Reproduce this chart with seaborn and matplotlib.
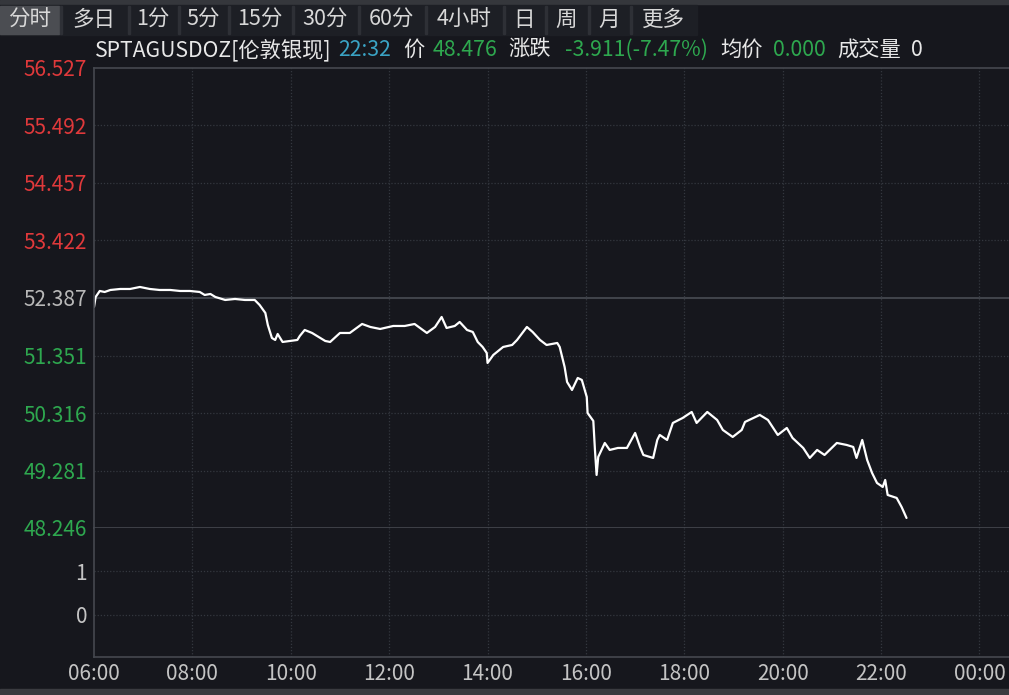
import matplotlib
matplotlib.use("Agg")
import matplotlib.pyplot as plt
import numpy as np
import pandas as pd
import seaborn as sns
from matplotlib.patches import Rectangle

# minutes after 06:00 and last price
minutes = [0, 2, 7, 13, 20, 32, 44, 56, 68, 80, 93, 105, 117, 129, 135, 142, 148,
           160, 172, 184, 196, 202, 209, 212, 217, 221, 224, 230, 239, 248, 251,
           257, 266, 276, 282, 288, 300, 312, 327, 337, 349, 365, 379, 391, 406,
           416, 424, 430, 440, 446, 455, 462, 468, 474, 479, 480, 487, 499, 510,
           516, 528, 535, 544, 552, 565, 568, 574, 577, 583, 590, 595, 601, 602,
           609, 611, 613, 615, 623, 629, 639, 650, 660, 666, 670, 682, 687, 690,
           699, 706, 718, 729, 735, 748, 760, 767, 779, 790, 794, 812, 822, 834,
           845, 852, 865, 873, 882, 891, 906, 918, 926, 930, 937, 943, 949, 955,
           962, 965, 968, 979, 985, 991]
prices = [52.225, 52.405, 52.513, 52.495, 52.531, 52.549, 52.549, 52.585, 52.549,
          52.531, 52.531, 52.513, 52.513, 52.495, 52.441, 52.459, 52.405, 52.351,
          52.369, 52.351, 52.351, 52.261, 52.117, 51.901, 51.667, 51.631, 51.739,
          51.595, 51.613, 51.631, 51.703, 51.811, 51.757, 51.667, 51.613, 51.595,
          51.757, 51.757, 51.919, 51.865, 51.829, 51.883, 51.883, 51.919, 51.757,
          51.865, 52.045, 51.847, 51.883, 51.955, 51.811, 51.775, 51.595, 51.505,
          51.397, 51.217, 51.361, 51.505, 51.541, 51.631, 51.865, 51.775, 51.631,
          51.541, 51.577, 51.505, 51.145, 50.875, 50.731, 50.947, 50.911, 50.605,
          50.317, 50.173, 49.651, 49.201, 49.525, 49.777, 49.651, 49.687, 49.687,
          49.957, 49.705, 49.561, 49.507, 49.831, 49.921, 49.831, 50.137, 50.227,
          50.335, 50.137, 50.335, 50.191, 50.011, 49.885, 50.011, 50.155, 50.281,
          50.191, 49.921, 50.047, 49.867, 49.687, 49.507, 49.651, 49.561, 49.777,
          49.741, 49.705, 49.507, 49.831, 49.471, 49.237, 49.057, 48.985, 49.111,
          48.841, 48.787, 48.625, 48.427]

prev_close = 52.387
price_ticks = [56.527, 55.492, 54.457, 53.422, 52.387, 51.351, 50.316, 49.281, 48.246]
volume_ticks = [1, 0]
time_labels = ["06:00", "08:00", "10:00", "12:00", "14:00", "16:00", "18:00",
               "20:00", "22:00", "00:00"]
tabs = ["分时", "多日", "1分", "5分", "15分", "30分", "60分", "4小时", "日", "周", "月", "更多"]
header_parts = ["SPTAGUSDOZ[伦敦银现]", "22:32", "价", "48.476", "涨跌",
                "-3.911(-7.47%)", "均价", "0.000", "成交量", "0"]

BG = "#16171d"
GRID = "#34373f"
SOLID = "#45484f"
RED = "#e0393b"
GREEN = "#2ea84f"
GRAY = "#c4c4c4"
WHITE = "#e8e8e8"
CYAN = "#3aa3c4"

sns.set_theme(style="dark")
plt.rcParams['font.family'] = ['Noto Sans CJK SC', 'DejaVu Sans']

W, H = 1009, 695
fig = plt.figure(figsize=(W / 100, H / 100), dpi=100, facecolor=BG)


def px_rect(x0, y0, x1, y1):
    return [x0 / W, 1 - y1 / H, (x1 - x0) / W, (y1 - y0) / H]


def tmin(label):
    h, m = map(int, label.split(":"))
    return ((h - 6) % 24) * 60 + m


tick_pos = [tmin(t) for t in time_labels]
xlim = (0, 1116)

# price pane
ax = fig.add_axes(px_rect(94, 68, W, 528))
ax.set_facecolor(BG)
df = pd.DataFrame({"minute": minutes, "price": prices})
sns.lineplot(data=df, x="minute", y="price", ax=ax, color="white", lw=1.6)
ax.set_xlim(*xlim)
ax.set_ylim(price_ticks[-1], price_ticks[0])
ax.set_xlabel("")
ax.set_ylabel("")
ax.set_yticks(price_ticks)
ax.set_yticklabels([f"{v:.3f}" for v in price_ticks])
for lab, v in zip(ax.get_yticklabels(), price_ticks):
    lab.set_color(RED if v > prev_close + 1e-6 else (GREEN if v < prev_close - 1e-6 else "#b8b8b8"))
ax.set_xticks(tick_pos)
ax.tick_params(axis="x", labelbottom=False, length=0)
ax.tick_params(axis="y", length=0, pad=5, labelsize=15)
ax.grid(False)
for v in price_ticks[1:-1]:
    if abs(v - prev_close) < 1e-6:
        ax.axhline(v, color=SOLID, lw=1.3, zorder=1)
    else:
        ax.axhline(v, color=GRID, lw=0.9, ls=(0, (1, 1.5)), zorder=1)
for p in tick_pos[1:]:
    ax.axvline(p, color=GRID, lw=0.9, ls=(0, (1, 1.5)), zorder=1)
ax.spines["right"].set_visible(False)
for s in ["left", "top", "bottom"]:
    ax.spines[s].set_color(SOLID)
    ax.spines[s].set_linewidth(1.2)

# volume pane
axv = fig.add_axes(px_rect(94, 528, W, 657))
axv.set_facecolor(BG)
axv.set_xlim(*xlim)
axv.set_ylim(-0.977, 2.0)
axv.set_yticks(volume_ticks)
axv.set_yticklabels([str(v) for v in volume_ticks], color=GRAY)
axv.set_xticks(tick_pos)
axv.set_xticklabels(time_labels, color=GRAY)
axv.tick_params(axis="both", length=0, labelsize=15)
axv.tick_params(axis="y", pad=5)
axv.tick_params(axis="x", pad=4)
axv.grid(False)
for v in volume_ticks:
    axv.axhline(v, color=GRID, lw=0.9, ls=(0, (1, 1.5)), zorder=1)
for p in tick_pos[1:]:
    axv.axvline(p, color=GRID, lw=0.9, ls=(0, (1, 1.5)), zorder=1)
axv.spines["right"].set_visible(False)
axv.spines["top"].set_visible(False)
for s in ["left", "bottom"]:
    axv.spines[s].set_color(SOLID)
    axv.spines[s].set_linewidth(1.2)

# tab bar and frame strips
fig.patches.append(Rectangle((0, 1 - 4 / H), 1, 4 / H, transform=fig.transFigure,
                             color="#35373c", zorder=0))
fig.patches.append(Rectangle((0, 1 - 35 / H), 697 / W, 30 / H, transform=fig.transFigure,
                             color="#1d1f25", zorder=0))
fig.patches.append(Rectangle((0, 0), 1, 6 / H, transform=fig.transFigure,
                             color="#3a3b40", zorder=0))
tab_edges = [0, 60, 128, 178, 228, 292, 358, 425, 503, 545, 588, 630, 697]
for i, name in enumerate(tabs):
    x0, x1 = tab_edges[i], tab_edges[i + 1]
    if i == 0:
        fig.patches.append(Rectangle((x0 / W, 1 - 34 / H), (x1 - x0 - 1) / W, 28 / H,
                                     transform=fig.transFigure, color="#4b4d52", zorder=1))
    else:
        fig.patches.append(Rectangle((x0 / W, 1 - 34 / H), 1.5 / W, 28 / H,
                                     transform=fig.transFigure, color="#2e3036", zorder=1))
    fig.text((x0 + x1) / 2 / W, 1 - 20 / H, name, ha="center", va="center",
             color="#d8d8d8", fontsize=15.5)

# header line
header_x = [95, 338, 403, 433, 508, 565, 720, 773, 837, 911]
header_colors = [WHITE, CYAN, WHITE, GREEN, WHITE, GREEN, WHITE, GREEN, WHITE, WHITE]
for txt, x, c in zip(header_parts, header_x, header_colors):
    fig.text(x / W, 1 - 50 / H, txt, ha="left", va="center", color=c, fontsize=15.3)

fig.savefig("out.png", dpi=100, facecolor=BG)
